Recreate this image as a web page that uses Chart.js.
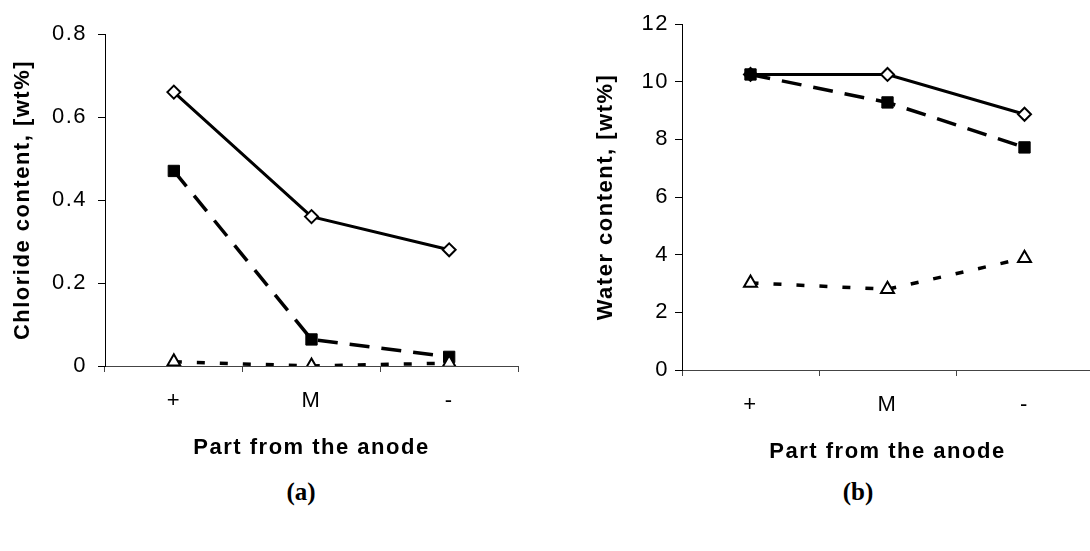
<!DOCTYPE html>
<html>
<head>
<meta charset="utf-8">
<script src="https://cdn.jsdelivr.net/npm/chart.js@4.4.1/dist/chart.umd.min.js"></script>
<style>
  html, body { margin: 0; padding: 0; background: #fff; overflow: hidden; }
  body { width: 1090px; height: 551px; position: relative; }
  canvas { position: absolute; }
  .cap { position: absolute; font: bold 25px "Liberation Serif", "Times New Roman", serif; color: #000; transform: translate(-50%, -50%); }
</style>
</head>
<body>
<canvas id="chartA" width="545" height="470" style="left:0;top:0"></canvas>
<canvas id="chartB" width="560" height="474" style="left:545px;top:0"></canvas>
<div class="cap" style="left:301px;top:492px">(a)</div>
<div class="cap" style="left:858px;top:492px">(b)</div>

<script>
// ---- data ----
const categories = ['+', 'M', '-'];

// (a) chloride content, wt%
const chlorideDiamond  = [0.66, 0.36, 0.28];
const chlorideSquare   = [0.47, 0.064, 0.022];
const chlorideTriangle = [0.01, 0.0, 0.007];

// (b) water content, wt%
const waterDiamond  = [10.25, 10.25, 8.87];
const waterSquare   = [10.25, 9.28, 7.72];
const waterTriangle = [3.02, 2.8, 3.88];

const chlorideTicks = { min: 0, max: 0.8, step: 0.2 };
const waterTicks    = { min: 0, max: 12,  step: 2 };

const FONT = '"Liberation Sans", Arial, sans-serif';

// Excel-ish wide text spacing
const spacingPlugin = {
  id: 'spacing',
  beforeDraw(chart) { chart.ctx.letterSpacing = '1.5px'; }
};

function datasets(diamond, square, triangle) {
  // index 0 is drawn on top
  return [
    {
      data: triangle,
      borderColor: '#000', borderWidth: 3.5, borderDash: [8, 15],
      pointStyle: 'triangle', pointRadius: 7.5, pointBorderWidth: 2,
      pointBackgroundColor: '#fff', pointBorderColor: '#000'
    },
    {
      data: square,
      borderColor: '#000', borderWidth: 3.5, borderDash: [20, 12],
      pointStyle: 'rect', pointRadius: 8, pointBorderWidth: 1,
      pointBackgroundColor: '#000', pointBorderColor: '#000'
    },
    {
      data: diamond,
      borderColor: '#000', borderWidth: 3,
      pointStyle: 'rectRot', pointRadius: 6.5, pointBorderWidth: 2,
      pointBackgroundColor: '#fff', pointBorderColor: '#000'
    }
  ];
}

function makeChart(id, cfg) {
  return new Chart(document.getElementById(id), {
    type: 'line',
    data: { labels: categories, datasets: datasets(cfg.diamond, cfg.square, cfg.triangle) },
    plugins: [spacingPlugin],
    options: {
      responsive: false,
      animation: false,
      layout: { padding: { left: 0, top: cfg.top, right: cfg.right, bottom: 0 } },
      elements: { line: { tension: 0 } },
      plugins: { legend: { display: false }, tooltip: { enabled: false } },
      scales: {
        x: {
          offset: true,
          grid: { drawOnChartArea: false, offset: true, tickLength: 6, color: '#444', lineWidth: 1 },
          border: { color: '#444', width: 1 },
          ticks: { color: '#000', font: { family: FONT, size: 22 }, padding: 16 },
          title: { display: true, text: 'Part from the anode', color: '#000',
                   font: { family: FONT, size: 22, weight: 'bold' }, padding: { top: 0, bottom: 9 } },
          afterFit(s) { s.height = 104; }
        },
        y: {
          min: cfg.ticks.min, max: cfg.ticks.max,
          grid: { drawOnChartArea: false, tickLength: 7, color: '#000', lineWidth: 1 },
          border: { color: '#000', width: 1 },
          ticks: { stepSize: cfg.ticks.step, color: '#000', font: { family: FONT, size: 22 }, padding: cfg.labelPad },
          title: { display: true, text: cfg.yTitle, color: '#000',
                   font: { family: FONT, size: 22, weight: 'bold' }, padding: { top: cfg.titlePad, bottom: 0 } },
          afterFit(s) { s.width = cfg.axisX; }
        }
      }
    }
  });
}

makeChart('chartA', {
  diamond: chlorideDiamond, square: chlorideSquare, triangle: chlorideTriangle,
  ticks: chlorideTicks, yTitle: 'Chloride content, [wt%]',
  top: 34, right: 27, axisX: 105, labelPad: 11, titlePad: 10
});

makeChart('chartB', {
  diamond: waterDiamond, square: waterSquare, triangle: waterTriangle,
  ticks: waterTicks, yTitle: 'Water content, [wt%]',
  top: 24, right: 12, axisX: 137, labelPad: 6, titlePad: 48
});
</script>
</body>
</html>
